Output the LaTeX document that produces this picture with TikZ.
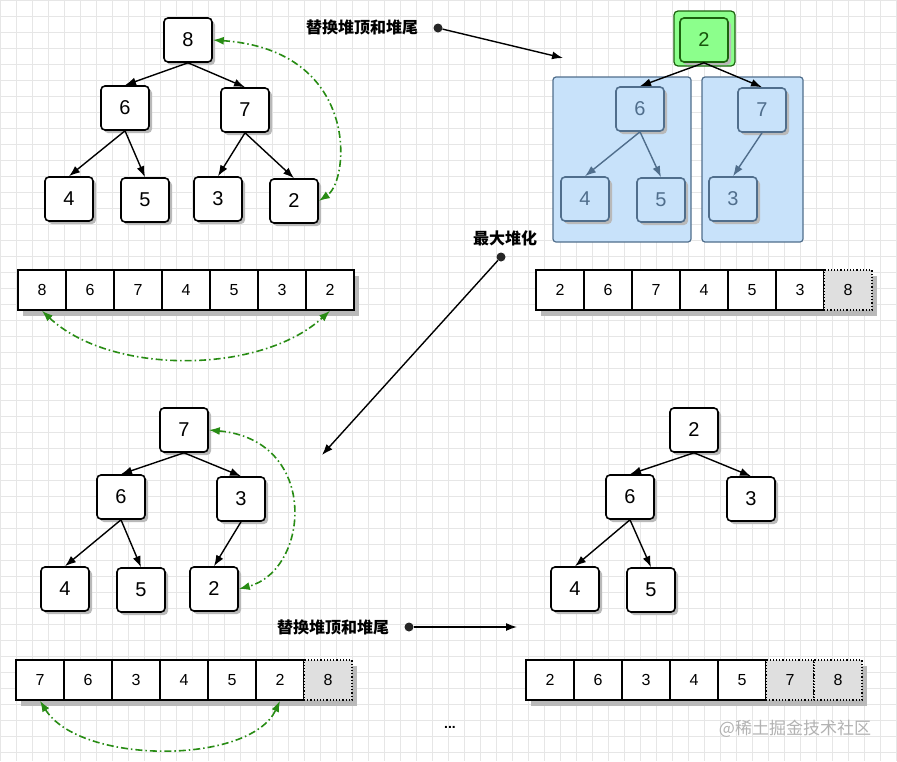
\documentclass[tikz,border=0pt]{standalone}
\usepackage{fontspec}
\setmainfont{Liberation Sans}
\newfontfamily\cjk{Noto Sans CJK SC}
\usetikzlibrary{arrows.meta,shadows}
\definecolor{gridc}{RGB}{230,230,230}
\definecolor{swapc}{RGB}{40,140,20}
\definecolor{bluef}{RGB}{200,226,250}
\definecolor{blued}{RGB}{80,110,140}
\tikzset{
  x=1pt, y=-1pt,
  tnode/.style={draw=black, line width=1.6pt, fill=white, rounded corners=4pt, minimum width=48pt, minimum height=44pt, font=\fontsize{20}{20}\selectfont,
    general shadow={fill=gray!55, shadow xshift=3pt, shadow yshift=-3pt}},
  bnode/.style={tnode, draw=blued, fill=bluef, text=blued},
  ashadow/.style={general shadow={fill=gray!55, shadow xshift=5pt, shadow yshift=-6pt}},
  cell/.style={draw=black, line width=1.6pt, fill=white, minimum width=48pt, minimum height=40pt, font=\fontsize{16}{16}\selectfont, inner sep=0pt},
  gcell/.style={cell, line width=1.2pt, dotted, fill=gray!25},
  edge/.style={-{Latex[length=11pt,width=8pt]}, line width=1.4pt},
  swap/.style={{Latex[length=11pt,width=8pt]}-{Latex[length=11pt,width=8pt]}, swapc, line width=1.6pt, dash pattern=on 7pt off 3pt on 1.5pt off 3pt},
  lab/.style={font=\cjk\fontsize{16}{16}\selectfont\bfseries},
  dot/.style={circle, fill=black!85, inner sep=0pt, minimum size=9pt}
}
\begin{document}
\begin{tikzpicture}
\useasboundingbox (0,0) rectangle (897,761);
\fill[white] (0,0) rectangle (897,761);
\foreach \i in {0,16,...,896} \draw[gridc] (\i,0) -- (\i,761);
\foreach \j in {0,16,...,760} \draw[gridc] (0,\j) -- (897,\j);

% tree 1
\node[tnode] (a8) at (188,40) {8};
\node[tnode] (a6) at (125,108) {6};
\node[tnode] (a7) at (245,110) {7};
\node[tnode] (a4) at (69,199) {4};
\node[tnode] (a5) at (145,200) {5};
\node[tnode] (a3) at (218,199) {3};
\node[tnode] (a2) at (294,201) {2};
\draw[edge] (a8.south) -- (a6.north);
\draw[edge] (a8.south) -- (a7.north);
\draw[edge] (a6.south) -- (a4.north);
\draw[edge] (a6.south) -- (a5.north);
\draw[edge] (a7.south) -- (a3.north);
\draw[edge] (a7.south) -- (a2.north);
\draw[swap] (a8.east) .. controls (360,50) and (350,180) .. (a2.east);

% array 1
\foreach \v [count=\k] in {8,6,7,4,5,3,2}
  \node[cell, ashadow] (p\k) at (-6+48*\k,290) {\v};
\draw[swap] (p1.south) .. controls (110,375) and (260,375) .. (p7.south);

% label 1
\node[lab] (l1) at (362,27) {替换堆顶和堆尾};
\node[dot] (d1) at (438,28) {};
\coordinate (e1) at (563,58);
\draw[edge] (d1) -- (e1);

% tree 2
\draw[blued, line width=1.2pt, fill=bluef, rounded corners=3pt] (553,77) rectangle (691,242);
\draw[blued, line width=1.2pt, fill=bluef, rounded corners=3pt] (702,77) rectangle (803,242);
\draw[swapc!70!black, line width=1.2pt, fill=green!45, rounded corners=4pt] (674,11) rectangle (735,66);
\node[tnode, draw=swapc!70!black, fill=green!45, text=swapc!60!black] (b2) at (704,40) {2};
\node[bnode] (b6) at (640,109) {6};
\node[bnode] (b7) at (762,110) {7};
\node[bnode] (b4) at (585,199) {4};
\node[bnode] (b5) at (661,200) {5};
\node[bnode] (b3) at (733,199) {3};
\draw[edge] (b2.south) -- (b6.north);
\draw[edge] (b2.south) -- (b7.north);
\draw[edge, blued] (b6.south) -- (b4.north);
\draw[edge, blued] (b6.south) -- (b5.north);
\draw[edge, blued] (b7.south) -- (b3.north);

% array 2
\foreach \v [count=\k] in {2,6,7,4,5,3}
  \node[cell, ashadow] (q\k) at (512+48*\k,290) {\v};
\node[gcell, ashadow] (q7) at (848,290) {8};

% label 2
\node[lab] (l2) at (505,238) {最大堆化};
\node[dot] (d2) at (501,257) {};
\coordinate (e2) at (322,455);
\draw[edge] (d2) -- (e2);

% tree 3
\node[tnode] (c7) at (184,430) {7};
\node[tnode] (c6) at (121,497) {6};
\node[tnode] (c3) at (241,499) {3};
\node[tnode] (c4) at (65,589) {4};
\node[tnode] (c5) at (141,590) {5};
\node[tnode] (c2) at (214,589) {2};
\draw[edge] (c7.south) -- (c6.north);
\draw[edge] (c7.south) -- (c3.north);
\draw[edge] (c6.south) -- (c4.north);
\draw[edge] (c6.south) -- (c5.north);
\draw[edge] (c3.south) -- (c2.north);
\draw[swap] (c7.east) .. controls (320,440) and (310,570) .. (c2.east);

% array 3
\foreach \v [count=\k] in {7,6,3,4,5,2}
  \node[cell, ashadow] (r\k) at (-8+48*\k,680) {\v};
\node[gcell, ashadow] (r7) at (328,680) {8};
\draw[swap] (r1.south) .. controls (80,765) and (250,765) .. (r6.south);

% tree 4
\node[tnode] (d2n) at (694,430) {2};
\node[tnode] (d6) at (630,497) {6};
\node[tnode] (d3) at (751,499) {3};
\node[tnode] (d4) at (575,589) {4};
\node[tnode] (d5) at (651,590) {5};
\draw[edge] (d2n.south) -- (d6.north);
\draw[edge] (d2n.south) -- (d3.north);
\draw[edge] (d6.south) -- (d4.north);
\draw[edge] (d6.south) -- (d5.north);

% label 3
\node[lab] (l3) at (333,627) {替换堆顶和堆尾};
\node[dot] (d3d) at (409,627) {};
\coordinate (e3) at (517,627);
\draw[edge] (d3d) -- (e3);

% array 4
\foreach \v [count=\k] in {2,6,3,4,5}
  \node[cell, ashadow] (s\k) at (502+48*\k,680) {\v};
\node[gcell, ashadow] (s6) at (790,680) {7};
\node[gcell, ashadow] (s7) at (838,680) {8};

\node[font=\fontsize{14}{14}\selectfont\bfseries] (dots) at (450,727) {...};
\node[font=\cjk\fontsize{17}{17}\selectfont, text=gray!60] (wm) at (795,729) {@稀土掘金技术社区};
\end{tikzpicture}
\end{document}
